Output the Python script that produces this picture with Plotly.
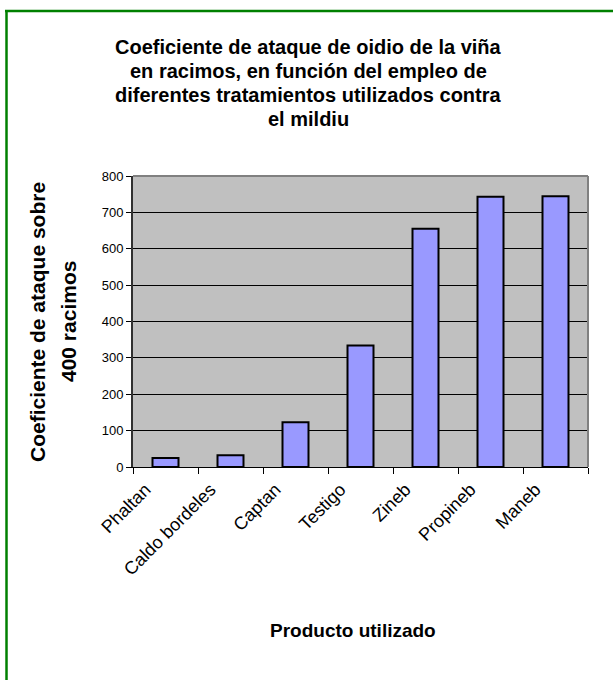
import plotly.graph_objects as go

# Data
categories = ["Phaltan", "Caldo bordeles", "Captan", "Testigo", "Zineb", "Propineb", "Maneb"]
values = [25, 32, 123, 334, 655, 743, 744]
y_ticks = [0, 100, 200, 300, 400, 500, 600, 700, 800]
title_lines = [
    "Coeficiente de ataque de oidio de la viña",
    "en racimos, en función del empleo de",
    "diferentes tratamientos utilizados contra",
    "el mildiu",
]
y_title_lines = ["Coeficiente de ataque sobre", "400 racimos"]
x_title = "Producto utilizado"

W, H = 613, 680
L, R, T, B = 133, 25, 176, 213
PW, PH = W - L - R, H - T - B
FONT = "Liberation Sans, Arial, sans-serif"


def px(x):
    return (x - L) / PW


def py(y):
    return (H - B - y) / PH


fig = go.Figure()
fig.add_trace(go.Bar(
    x=categories, y=values,
    marker=dict(color="#9999FF", line=dict(color="black", width=2)),
    width=0.4,
))

annotations = []
for i, line in enumerate(title_lines):
    annotations.append(dict(
        text="<b>%s</b>" % line, xref="paper", yref="paper",
        x=px(308), y=py(47 + 24 * i), xanchor="center", yanchor="middle",
        showarrow=False, font=dict(family=FONT, size=20, color="black"),
    ))
for i, line in enumerate(y_title_lines):
    annotations.append(dict(
        text="<b>%s</b>" % line, xref="paper", yref="paper",
        x=px(37 + 31 * i), y=py(322), xanchor="center", yanchor="middle",
        textangle=-90, showarrow=False,
        font=dict(family=FONT, size=21, color="black"),
    ))
annotations.append(dict(
    text="<b>%s</b>" % x_title, xref="paper", yref="paper",
    x=px(353), y=py(630), xanchor="center", yanchor="middle",
    showarrow=False, font=dict(family=FONT, size=19, color="black"),
))

shapes = [
    # green frame (top and left visible)
    dict(type="line", xref="paper", yref="paper", x0=px(5), x1=px(640),
         y0=py(11), y1=py(11), line=dict(color="#008000", width=2.5)),
    dict(type="line", xref="paper", yref="paper", x0=px(6.5), x1=px(6.5),
         y0=py(10), y1=py(700), line=dict(color="#008000", width=2.5)),
    # grey plot border top and right
    dict(type="line", xref="paper", yref="paper", x0=0, x1=1, y0=1, y1=1,
         line=dict(color="#808080", width=2)),
    dict(type="line", xref="paper", yref="paper", x0=1, x1=1, y0=0, y1=1,
         line=dict(color="#808080", width=2)),
]

fig.update_layout(
    width=W, height=H,
    margin=dict(l=L, r=R, t=T, b=B, pad=0),
    paper_bgcolor="white", plot_bgcolor="#C0C0C0",
    showlegend=False,
    annotations=annotations, shapes=shapes,
    font=dict(family=FONT, color="black"),
    bargap=0.6,
)
fig.update_xaxes(
    type="category", tickangle=-45, tickson="boundaries",
    ticks="outside", ticklen=6, tickcolor="black", tickwidth=1,
    showline=True, linecolor="black", linewidth=1, showgrid=False,
    tickfont=dict(family=FONT, size=18, color="black"),
    ticklabelshift=-20, ticklabelstandoff=4,
)
fig.update_yaxes(
    range=[0, 800], tickvals=y_ticks, ticks="outside", ticklen=5,
    tickcolor="black", showline=True, linecolor="#303030", linewidth=2,
    showgrid=True, gridcolor="black", gridwidth=1, zeroline=False,
    tickfont=dict(family=FONT, size=13, color="black"),
)

fig.write_html("out.html")
